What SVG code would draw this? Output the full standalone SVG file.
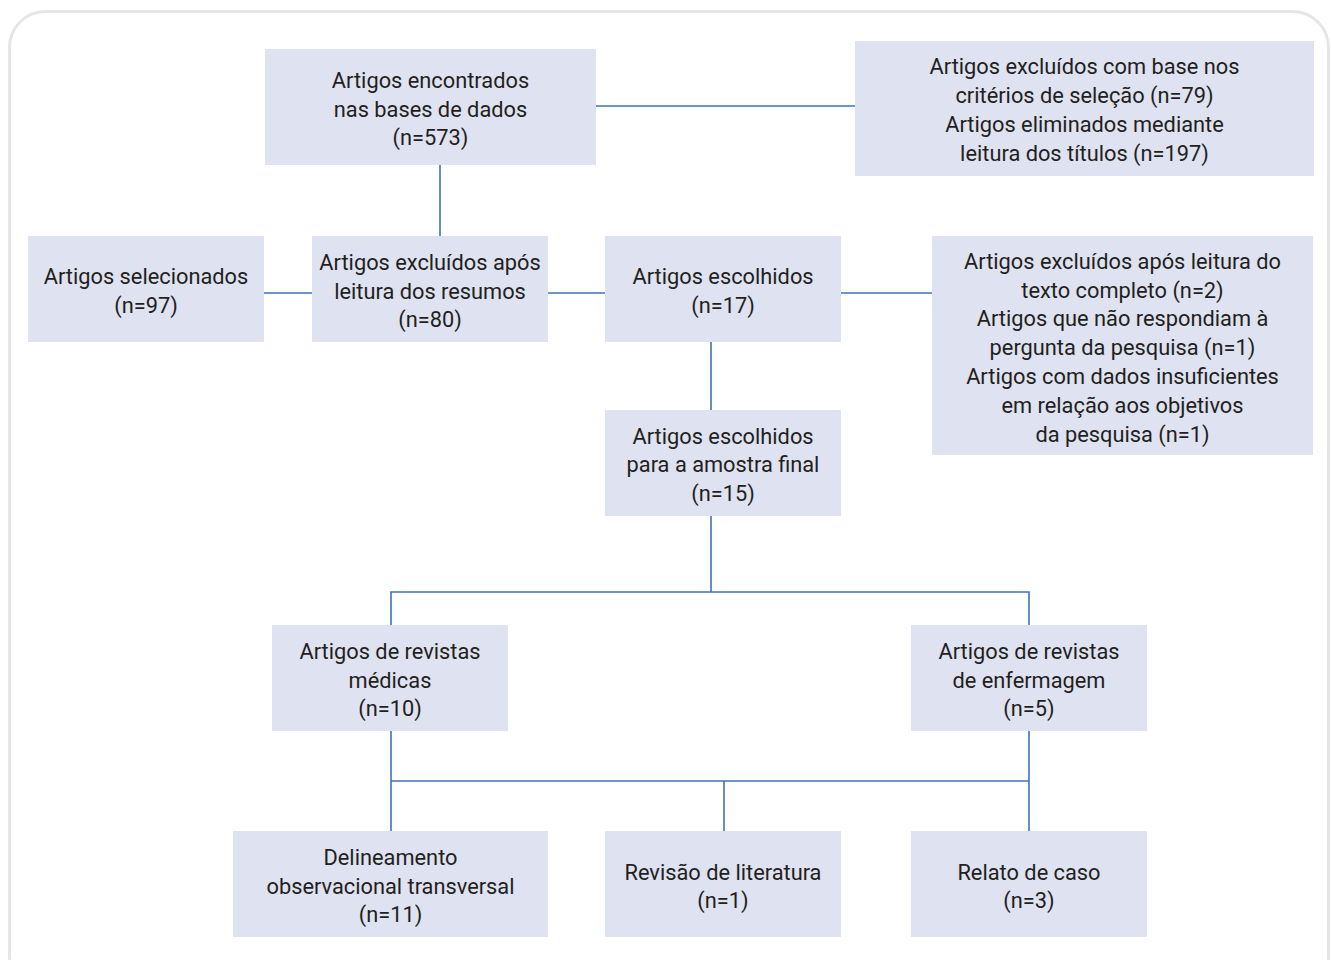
<svg xmlns="http://www.w3.org/2000/svg" width="1331" height="960" viewBox="0 0 1331 960">
<style>
.box{fill:#dfe2f1}
.t{font-family:Roboto,"Liberation Sans",sans-serif;font-size:21.8px;fill:#231f20;text-anchor:middle;dominant-baseline:central}
.c{stroke:#3f72b5;stroke-width:1.6;fill:none}
</style>
<rect x="9.5" y="11.5" width="1319" height="980" rx="36" fill="#fff" stroke="#e6e6e6" stroke-width="3"/>
<g id="connectors" class="c">
<line x1="596" y1="106" x2="855" y2="106"/>
<line x1="440" y1="165" x2="440" y2="236"/>
<line x1="264" y1="293" x2="312" y2="293"/>
<line x1="548" y1="293" x2="605" y2="293"/>
<line x1="841" y1="293" x2="932" y2="293"/>
<line x1="711" y1="342" x2="711" y2="410"/>
<line x1="711" y1="516" x2="711" y2="592"/>
<polyline points="391,625 391,592 1029,592 1029,625"/>
<line x1="391" y1="731" x2="391" y2="831"/>
<line x1="1029" y1="731" x2="1029" y2="831"/>
<line x1="391" y1="781" x2="1029" y2="781"/>
<line x1="724" y1="781" x2="724" y2="831"/>
</g>
<g id="n1"><rect class="box" x="265" y="49" width="331" height="116"/>
<text class="t" x="430.5"><tspan x="430.5" y="80">Artigos encontrados</tspan><tspan x="430.5" y="108.5">nas bases de dados</tspan><tspan x="430.5" y="137">(n=573)</tspan></text></g>
<g id="n2"><rect class="box" x="855" y="41" width="459" height="135"/>
<text class="t"><tspan x="1084.5" y="66">Artigos excluídos com base nos</tspan><tspan x="1084.5" y="95">critérios de seleção (n=79)</tspan><tspan x="1084.5" y="124">Artigos eliminados mediante</tspan><tspan x="1084.5" y="153">leitura dos títulos (n=197)</tspan></text></g>
<g id="n3"><rect class="box" x="28" y="236" width="236" height="106"/>
<text class="t"><tspan x="146" y="276">Artigos selecionados</tspan><tspan x="146" y="305">(n=97)</tspan></text></g>
<g id="n4"><rect class="box" x="312" y="236" width="236" height="106"/>
<text class="t"><tspan x="430" y="262">Artigos excluídos após</tspan><tspan x="430" y="291">leitura dos resumos</tspan><tspan x="430" y="319">(n=80)</tspan></text></g>
<g id="n5"><rect class="box" x="605" y="236" width="236" height="106"/>
<text class="t"><tspan x="723" y="276">Artigos escolhidos</tspan><tspan x="723" y="305">(n=17)</tspan></text></g>
<g id="n6"><rect class="box" x="932" y="236" width="381" height="219"/>
<text class="t"><tspan x="1122.5" y="261">Artigos excluídos após leitura do</tspan><tspan x="1122.5" y="290">texto completo (n=2)</tspan><tspan x="1122.5" y="318">Artigos que não respondiam à</tspan><tspan x="1122.5" y="347">pergunta da pesquisa (n=1)</tspan><tspan x="1122.5" y="376">Artigos com dados insuficientes</tspan><tspan x="1122.5" y="405">em relação aos objetivos</tspan><tspan x="1122.5" y="434">da pesquisa (n=1)</tspan></text></g>
<g id="n7"><rect class="box" x="605" y="410" width="236" height="106"/>
<text class="t"><tspan x="723" y="436">Artigos escolhidos</tspan><tspan x="723" y="464">para a amostra final</tspan><tspan x="723" y="493">(n=15)</tspan></text></g>
<g id="n8"><rect class="box" x="272" y="625" width="236" height="106"/>
<text class="t"><tspan x="390" y="651">Artigos de revistas</tspan><tspan x="390" y="680">médicas</tspan><tspan x="390" y="708">(n=10)</tspan></text></g>
<g id="n9"><rect class="box" x="911" y="625" width="236" height="106"/>
<text class="t"><tspan x="1029" y="651">Artigos de revistas</tspan><tspan x="1029" y="680">de enfermagem</tspan><tspan x="1029" y="708">(n=5)</tspan></text></g>
<g id="n10"><rect class="box" x="233" y="831" width="315" height="106"/>
<text class="t"><tspan x="390.5" y="857">Delineamento</tspan><tspan x="390.5" y="886">observacional transversal</tspan><tspan x="390.5" y="914">(n=11)</tspan></text></g>
<g id="n11"><rect class="box" x="605" y="831" width="236" height="106"/>
<text class="t"><tspan x="723" y="872">Revisão de literatura</tspan><tspan x="723" y="900">(n=1)</tspan></text></g>
<g id="n12"><rect class="box" x="911" y="831" width="236" height="106"/>
<text class="t"><tspan x="1029" y="872">Relato de caso</tspan><tspan x="1029" y="900">(n=3)</tspan></text></g>
</svg>
